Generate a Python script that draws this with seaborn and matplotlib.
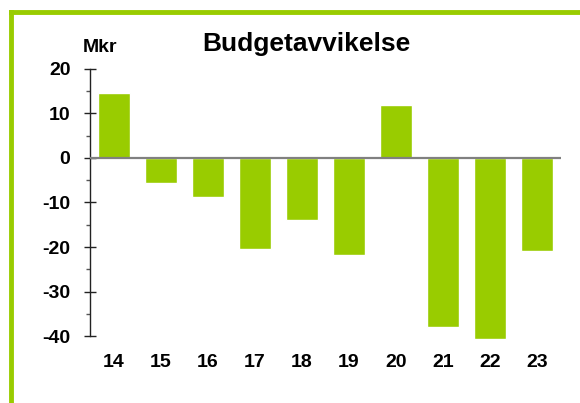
import pandas as pd
import seaborn as sns
import matplotlib.pyplot as plt
from matplotlib.lines import Line2D
from matplotlib.ticker import MultipleLocator

# Budget deviation per year (Mkr)
years = ['14', '15', '16', '17', '18', '19', '20', '21', '22', '23']
deviation = [14.6, -5.6, -8.8, -20.4, -13.9, -21.8, 11.9, -37.9, -40.7, -20.9]

df = pd.DataFrame({'year': years, 'deviation': deviation})

sns.set_theme(style='white')
plt.rcParams['font.family'] = ['Liberation Sans', 'DejaVu Sans']
plt.rcParams['axes.unicode_minus'] = False
plt.rcParams['text.color'] = 'black'
plt.rcParams['xtick.color'] = 'black'
plt.rcParams['ytick.color'] = 'black'

green = '#99CC00'

fig = plt.figure(figsize=(5.8, 4.03), dpi=100)
ax = fig.add_axes([0.155, 0.155, 0.812, 0.674])

sns.barplot(data=df, x='year', y='deviation', color=green, saturation=1,
            width=0.68, ax=ax)

ax.axhline(0, color='#808080', lw=1.6, zorder=3)

ax.set_ylim(-41, 20)
ax.set_xlim(-0.51, 9.51)
ax.yaxis.set_major_locator(MultipleLocator(10))
ax.yaxis.set_minor_locator(MultipleLocator(5))
ax.tick_params(axis='y', which='major', direction='inout', length=8, width=1,
               color='#222222', pad=10, labelsize=14, left=True)
ax.tick_params(axis='y', which='minor', direction='out', length=3, width=1,
               color='#555555', left=True)
ax.tick_params(axis='x', length=0, pad=10, labelsize=14)
for lbl in ax.get_xticklabels() + ax.get_yticklabels():
    lbl.set_fontweight('bold')
    lbl.set_color('black')

for side in ['top', 'right', 'bottom']:
    ax.spines[side].set_visible(False)
ax.spines['left'].set_bounds(-40, 20)
ax.spines['left'].set_color('#222222')
ax.spines['left'].set_linewidth(1)

ax.set_xlabel('')
ax.set_ylabel('')

fig.text(0.529, 0.873, 'Budgetavvikelse', ha='center', va='baseline',
         fontsize=19, fontweight='bold', color='black')
fig.text(0.172, 0.871, 'Mkr', ha='center', va='baseline',
         fontsize=14, fontweight='bold', color='black')

# green frame on left and top edges
fig.add_artist(Line2D([0.0186, 0.0186], [0, 0.9695], color=green, lw=3.5,
                      solid_capstyle='projecting'))
fig.add_artist(Line2D([0.0186, 1], [0.9695, 0.9695], color=green, lw=3.5,
                      solid_capstyle='projecting'))

plt.savefig('out.png', dpi=100)
